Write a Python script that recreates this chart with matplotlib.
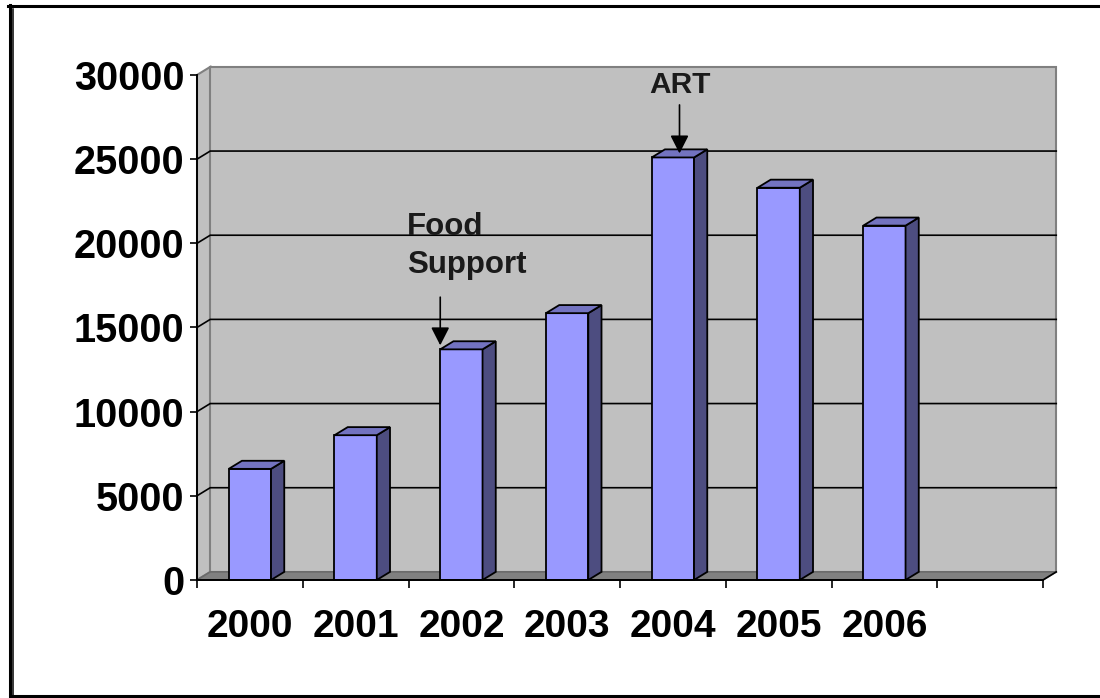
import numpy as np
import matplotlib.pyplot as plt
from matplotlib.patches import Polygon

# patients per year, 3d-style column chart
years = ['2000', '2001', '2002', '2003', '2004', '2005', '2006', '']
patients = [6600, 8600, 13700, 15850, 25100, 23300, 21050]
yticks = [0, 5000, 10000, 15000, 20000, 25000, 30000]

plt.rcParams['font.family'] = ['Liberation Sans', 'DejaVu Sans']
plt.rcParams['font.weight'] = 'bold'

fig = plt.figure(figsize=(11, 6.98), dpi=100)
ax = fig.add_axes([0.1791, 0.1691, 0.7691, 0.7235])
n = len(years)
ax.set_xlim(-0.5, n - 0.5)
ax.set_ylim(0, yticks[-1])
ax.patch.set_visible(False)

dx, dy = 0.125, 480          # depth offset for the 3d look
x0, x1 = -0.5, n - 0.5
top = yticks[-1]


def face(pts, fc, ec, lw=1.2, z=1):
    ax.add_patch(Polygon(pts, closed=True, facecolor=fc, edgecolor=ec, lw=lw,
                         zorder=z, clip_on=False, joinstyle='miter'))


# side wall, back wall, floor
face([(x0, 0), (x0 + dx, dy), (x0 + dx, top + dy), (x0, top)], '#c0c0c0', '#808080', 1.5, 0.5)
face([(x0 + dx, dy), (x1 + dx, dy), (x1 + dx, top + dy), (x0 + dx, top + dy)], '#c0c0c0', '#808080', 1.5, 0.5)
face([(x0, 0), (x1, 0), (x1 + dx, dy), (x0 + dx, dy)], '#808080', '#6a6a6a', 1.2, 0.6)
ax.plot([x1, x1 + dx], [0, dy], color='black', lw=1.2, zorder=0.7, clip_on=False)

# gridlines on the walls
for v in yticks[1:-1]:
    ax.plot([x0, x0 + dx, x1 + dx], [v, v + dy, v + dy], color='black', lw=1.2,
            zorder=0.8, clip_on=False)

# columns
w = 0.4
for i, v in enumerate(patients):
    l, r = i - w / 2, i + w / 2
    face([(l, 0), (r, 0), (r, v), (l, v)], '#9999ff', 'black', 1.3, 3)
    face([(r, 0), (r + dx, dy), (r + dx, v + dy), (r, v)], '#4d4d80', 'black', 1.3, 3)
    face([(l, v), (r, v), (r + dx, v + dy), (l + dx, v + dy)], '#7373c0', 'black', 1.3, 3)

# axes
for s in ['top', 'right']:
    ax.spines[s].set_visible(False)
for s in ['left', 'bottom']:
    ax.spines[s].set_linewidth(1.4)
    ax.spines[s].set_zorder(4)
ax.set_yticks(yticks, labels=[str(t) for t in yticks])
ax.tick_params(axis='y', length=5, width=1.2, pad=4, labelsize=28.5)
ax.set_xticks(np.arange(n + 1) - 0.5, labels=[''] * (n + 1))
ax.tick_params(axis='x', which='major', length=6, width=1.2)
ax.set_xticks(range(n), labels=years, minor=True)
ax.tick_params(axis='x', which='minor', length=0, pad=21, labelsize=28)

# annotations
arrow = dict(arrowstyle='-|>,head_length=0.55,head_width=0.28', color='black',
             lw=1.2, shrinkA=0, shrinkB=0, mutation_scale=20)
ax.annotate('', xy=(4 + dx / 2, patients[4] + dy / 2), xytext=(4 + dx / 2, 28220),
            arrowprops=arrow, zorder=5, annotation_clip=False)
ax.text(4 + dx / 2, 28920, 'ART', ha='center', va='baseline', fontsize=21.5, color='#1a1a1a')

ax.annotate('', xy=(2 - w / 2, patients[2] + dy / 2), xytext=(2 - w / 2, 16800),
            arrowprops=arrow, zorder=5, annotation_clip=False)
ax.text(1.486, 20500, 'Food', ha='left', va='baseline', fontsize=22.5, color='#1a1a1a', zorder=5)
ax.text(1.486, 18240, 'Support', ha='left', va='baseline', fontsize=22.5, color='#1a1a1a', zorder=5)

# outer frame
bx = fig.add_axes([0, 0, 1, 1], zorder=-1)
bx.set_xlim(0, 1100)
bx.set_ylim(698, 0)
bx.axis('off')
bx.plot([9.5, 9.5], [4.5, 698], color='black', lw=2.2)
bx.plot([8, 1100], [5.8, 5.8], color='black', lw=2.2)
bx.plot([12.7, 12.7], [9, 695], color='black', lw=1.1)
bx.plot([12, 1100], [696.2, 696.2], color='black', lw=2.2)

fig.savefig('out.png', dpi=100)
